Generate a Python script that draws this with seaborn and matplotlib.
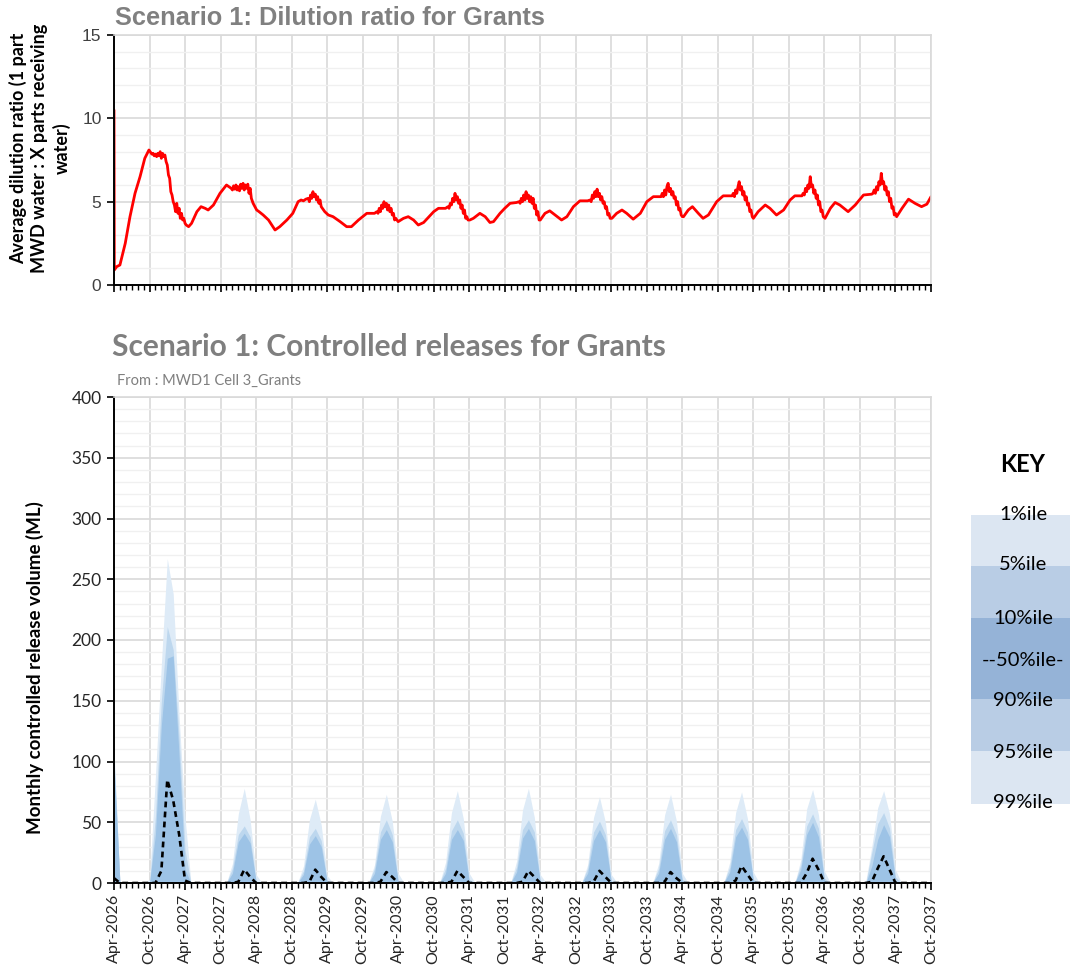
import numpy as np
import pandas as pd
import matplotlib
matplotlib.use("Agg")
import matplotlib.pyplot as plt
from matplotlib.ticker import MultipleLocator
import seaborn as sns

# ---------------------------------------------------------------
# Dilution ratio: time in months after 1 Apr 2026, average ratio
# ---------------------------------------------------------------
dilution_months = [
    0.0, 0.05, 0.45, 1.0, 1.9, 2.7, 3.55, 4.4, 5.2, 5.9,
    6.2, 6.4, 6.6, 6.8, 7.0, 7.2, 7.4, 7.6, 7.8, 8.0, 8.2, 8.4, 8.6, 8.8,
    9.0, 9.2, 9.4, 9.6, 9.8, 10.0, 10.2, 10.4, 10.6, 10.8, 11.0, 11.2, 11.4, 11.6, 11.8, 12.0, 12.2,
    12.6, 13.1, 14.0, 14.7, 15.4, 15.9, 16.8, 17.9, 19.0,
    19.4, 19.8, 20.0, 20.2, 20.4, 20.6, 20.8, 21.0, 21.2, 21.4, 21.6, 21.8, 22.0, 22.2, 22.4, 22.6, 22.8, 23.0, 23.2,
    23.5, 23.8, 24.1, 24.5, 25.2, 26.1, 27.2, 28.0, 29.2, 30.2, 31.1,
    31.6, 32.0, 32.4, 32.8, 33.0, 33.2, 33.4, 33.6, 33.8, 34.0, 34.2, 34.4, 34.6, 34.8, 35.0, 35.2,
    35.6, 36.2, 37.0, 38.2, 39.3, 40.1, 41.3, 42.7, 44.0,
    44.4, 44.6, 44.8, 45.0, 45.2, 45.4, 45.6, 45.8, 46.0, 46.2, 46.4, 46.6, 46.8, 47.0, 47.2, 47.4, 47.6,
    48.0, 48.9, 49.7, 50.6, 51.4, 52.3, 54.0, 54.8, 56.0,
    56.4, 56.6, 56.8, 57.0, 57.2, 57.4, 57.6, 57.8, 58.0, 58.2, 58.4, 58.6, 58.8, 59.0, 59.2, 59.4, 59.6, 59.8,
    60.1, 60.7, 61.8, 62.7, 63.5, 64.1, 65.2, 66.0, 66.9, 68.0,
    68.4, 68.6, 68.8, 69.0, 69.2, 69.4, 69.6, 69.8, 70.0, 70.2, 70.4, 70.6, 70.8, 71.0, 71.2, 71.4, 71.6, 71.8,
    72.0, 72.8, 73.6, 74.5, 75.6, 76.5, 77.6, 78.7, 80.0,
    80.4, 80.6, 80.8, 81.0, 81.2, 81.4, 81.6, 81.8, 82.0, 82.2, 82.4, 82.6, 82.8, 83.0, 83.2, 83.4, 83.6, 83.8,
    84.1, 84.9, 85.8, 86.6, 87.7, 88.9, 90.0, 91.1, 92.2,
    92.4, 92.6, 92.8, 93.0, 93.2, 93.4, 93.6, 93.8, 94.0, 94.2, 94.4, 94.6, 94.8, 95.0, 95.2, 95.4, 95.6, 95.8, 96.0,
    96.2, 97.0, 97.7, 98.7, 99.5, 100.4, 101.8, 102.9, 104.4,
    104.6, 104.8, 105.0, 105.2, 105.4, 105.6, 105.8, 106.0, 106.2, 106.4, 106.6, 106.8, 107.0, 107.2, 107.4, 107.6, 107.8,
    108.0, 108.8, 110.0, 110.8, 111.9, 113.1, 114.2, 115.0, 116.2,
    116.4, 116.6, 116.8, 117.0, 117.2, 117.4, 117.6, 117.8, 118.0, 118.2, 118.4, 118.6, 118.8, 119.0, 119.2, 119.4, 119.6, 119.8,
    120.1, 121.0, 121.8, 122.6, 124.0, 125.2, 126.6, 128.0,
    128.2, 128.4, 128.6, 128.8, 129.0, 129.2, 129.4, 129.6, 129.8, 130.0, 130.2, 130.4, 130.6, 130.8, 131.0, 131.2, 131.4, 131.6, 131.8, 132.0,
    132.2, 133.1, 134.2, 135.3, 136.4, 137.3, 138.0,
]
dilution_ratio = [
    10.5, 0.9, 1.1, 1.2, 2.5, 4.1, 5.5, 6.5, 7.6, 8.1,
    7.95, 7.85, 7.9, 7.75, 7.85, 7.7, 7.9, 7.75, 8.0, 7.6, 7.9, 7.7, 7.8, 7.4,
    7.2, 6.6, 6.4, 5.6, 5.4, 5.0, 4.8, 4.4, 4.9, 4.3, 4.6, 4.0, 4.3, 3.9, 4.0, 3.7, 3.6,
    3.5, 3.7, 4.4, 4.7, 4.6, 4.5, 4.8, 5.5, 6.0,
    5.9, 5.8, 5.7, 5.95, 5.75, 6.0, 5.7, 5.9, 5.65, 6.05, 5.8, 6.1, 5.7, 6.0, 5.8, 6.05, 5.5, 5.8, 5.2,
    4.9, 4.7, 4.5, 4.4, 4.2, 3.9, 3.3, 3.5, 3.9, 4.3, 5.0,
    5.1, 5.05, 5.15, 5.2, 5.0, 5.4, 5.2, 5.6, 5.3, 5.45, 5.1, 5.3, 4.9, 5.1, 4.7, 4.6,
    4.4, 4.2, 4.1, 3.8, 3.5, 3.5, 3.9, 4.3, 4.3,
    4.4, 4.3, 4.6, 4.4, 4.8, 4.6, 5.0, 4.7, 4.9, 4.5, 4.8, 4.4, 4.6, 4.2, 4.3, 3.9, 4.0,
    3.8, 4.0, 4.1, 3.9, 3.6, 3.75, 4.4, 4.6, 4.6,
    4.7, 4.6, 4.9, 4.8, 5.2, 5.0, 5.5, 5.1, 5.3, 4.9, 5.1, 4.6, 4.8, 4.3, 4.5, 4.0, 4.1, 3.9,
    3.9, 4.0, 4.3, 4.1, 3.75, 3.8, 4.3, 4.6, 4.9, 4.95,
    5.0, 4.9, 5.2, 5.0, 5.4, 5.1, 5.6, 5.2, 5.4, 5.0, 5.3, 4.9, 5.2, 4.6, 4.8, 4.2, 4.4, 3.9,
    3.9, 4.3, 4.45, 4.2, 3.9, 4.1, 4.7, 5.05, 5.05,
    5.1, 5.0, 5.4, 5.2, 5.6, 5.3, 5.75, 5.3, 5.5, 5.1, 5.3, 4.9, 5.0, 4.6, 4.7, 4.2, 4.3, 4.0,
    4.0, 4.3, 4.5, 4.3, 3.95, 4.3, 5.0, 5.3, 5.3,
    5.3, 5.5, 5.3, 5.7, 5.4, 5.9, 6.1, 5.6, 5.8, 5.4, 5.6, 5.2, 5.3, 4.8, 5.0, 4.5, 4.6, 4.2, 4.1,
    4.1, 4.5, 4.7, 4.3, 4.0, 4.2, 5.0, 5.35, 5.35,
    5.5, 5.3, 5.7, 5.5, 5.9, 6.2, 5.7, 5.9, 5.4, 5.6, 5.1, 5.3, 4.8, 4.9, 4.4, 4.5, 4.1,
    4.0, 4.4, 4.8, 4.6, 4.2, 4.5, 5.1, 5.35, 5.35,
    5.5, 5.4, 5.8, 5.6, 6.0, 5.8, 6.5, 5.9, 6.0, 5.5, 5.7, 5.2, 5.4, 4.8, 5.0, 4.4, 4.5, 4.1,
    4.0, 4.6, 4.95, 4.8, 4.4, 4.8, 5.4, 5.45,
    5.5, 5.7, 5.5, 5.9, 5.7, 6.2, 6.0, 6.7, 6.1, 6.2, 5.7, 5.9, 5.4, 5.6, 5.0, 5.2, 4.6, 4.7, 4.2, 4.3,
    4.1, 4.6, 5.15, 4.9, 4.7, 4.85, 5.3,
]

# ---------------------------------------------------------------
# Monthly controlled release volume (ML), Apr-2026 .. Oct-2037
# each row: Apr May Jun Jul Aug Sep Oct Nov Dec Jan Feb Mar
# ---------------------------------------------------------------
release_p01 = [
    110, 0, 0, 0, 0, 0, 3, 88, 180, 267, 238, 137,
    54, 0, 0, 0, 0, 0, 0, 0, 16, 57, 78, 52,
    7, 0, 0, 0, 0, 0, 0, 0, 14, 52, 69, 48,
    6, 0, 0, 0, 0, 0, 0, 0, 15, 55, 73, 51,
    8, 0, 0, 0, 0, 0, 0, 0, 17, 58, 76, 53,
    8, 0, 0, 0, 0, 0, 0, 0, 18, 60, 78, 54,
    7, 0, 0, 0, 0, 0, 0, 0, 15, 54, 71, 50,
    7, 0, 0, 0, 0, 0, 0, 0, 16, 56, 73, 51,
    8, 0, 0, 0, 0, 0, 0, 0, 17, 58, 75, 53,
    9, 0, 0, 0, 0, 0, 0, 0, 19, 61, 77, 56,
    10, 0, 0, 0, 0, 0, 0, 2, 30, 62, 76, 57,
    11, 0, 0, 0, 0, 0, 0,
]
release_p05 = [
    104, 0, 0, 0, 0, 0, 0, 55, 150, 211, 192, 120,
    27, 0, 0, 0, 0, 0, 0, 0, 12, 40, 47, 38,
    2, 0, 0, 0, 0, 0, 0, 0, 10, 38, 45, 35,
    2, 0, 0, 0, 0, 0, 0, 0, 12, 42, 52, 40,
    2, 0, 0, 0, 0, 0, 0, 0, 12, 43, 52, 41,
    3, 0, 0, 0, 0, 0, 0, 0, 13, 44, 52, 42,
    2, 0, 0, 0, 0, 0, 0, 0, 12, 42, 51, 40,
    2, 0, 0, 0, 0, 0, 0, 0, 12, 43, 52, 40,
    3, 0, 0, 0, 0, 0, 0, 0, 13, 44, 53, 42,
    3, 0, 0, 0, 0, 0, 0, 0, 15, 47, 57, 45,
    4, 0, 0, 0, 0, 0, 0, 0, 25, 49, 58, 45,
    5, 0, 0, 0, 0, 0, 0,
]
release_p10 = [
    98, 0, 0, 0, 0, 0, 0, 40, 130, 185, 187, 104,
    11, 0, 0, 0, 0, 0, 0, 0, 8, 34, 41, 33,
    1, 0, 0, 0, 0, 0, 0, 0, 7, 32, 39, 30,
    1, 0, 0, 0, 0, 0, 0, 0, 8, 36, 44, 34,
    1, 0, 0, 0, 0, 0, 0, 0, 8, 36, 44, 35,
    1, 0, 0, 0, 0, 0, 0, 0, 9, 37, 45, 35,
    1, 0, 0, 0, 0, 0, 0, 0, 8, 35, 44, 34,
    1, 0, 0, 0, 0, 0, 0, 0, 8, 36, 45, 34,
    1, 0, 0, 0, 0, 0, 0, 0, 9, 38, 46, 36,
    2, 0, 0, 0, 0, 0, 0, 0, 11, 40, 50, 38,
    2, 0, 0, 0, 0, 0, 0, 0, 14, 36, 48, 38,
    2, 0, 0, 0, 0, 0, 0,
]
release_p50 = [
    4, 0, 0, 0, 0, 0, 0, 0, 10, 85, 68, 40,
    2, 0, 0, 0, 0, 0, 0, 0, 0, 1, 11, 5,
    0, 0, 0, 0, 0, 0, 0, 0, 0, 1, 11, 5,
    0, 0, 0, 0, 0, 0, 0, 0, 0, 1, 9, 5,
    0, 0, 0, 0, 0, 0, 0, 0, 0, 1, 10, 5,
    0, 0, 0, 0, 0, 0, 0, 0, 0, 1, 10, 5,
    0, 0, 0, 0, 0, 0, 0, 0, 0, 1, 10, 5,
    0, 0, 0, 0, 0, 0, 0, 0, 0, 1, 9, 4,
    0, 0, 0, 0, 0, 0, 0, 0, 0, 2, 14, 7,
    0, 0, 0, 0, 0, 0, 0, 0, 0, 8, 20, 11,
    0, 0, 0, 0, 0, 0, 0, 0, 1, 12, 22, 11,
    0, 0, 0, 0, 0, 0, 0,
]
# the lower percentiles stay at zero throughout the period
release_p90 = [0] * len(release_p50)
release_p95 = [0] * len(release_p50)
release_p99 = [0] * len(release_p50)

period_labels = [
    "Apr-2026", "Oct-2026", "Apr-2027", "Oct-2027", "Apr-2028", "Oct-2028",
    "Apr-2029", "Oct-2029", "Apr-2030", "Oct-2030", "Apr-2031", "Oct-2031",
    "Apr-2032", "Oct-2032", "Apr-2033", "Oct-2033", "Apr-2034", "Oct-2034",
    "Apr-2035", "Oct-2035", "Apr-2036", "Oct-2036", "Apr-2037", "Oct-2037",
]
key_labels = ["1%ile", "5%ile", "10%ile", "--50%ile-", "90%ile", "95%ile", "99%ile"]

# ---------------------------------------------------------------
sns.set_theme(style="white")
plt.rcParams["font.family"] = ["Lato", "DejaVu Sans"]

W, H = 1070, 967
fig = plt.figure(figsize=(W / 100, H / 100), dpi=100)
fig.patch.set_facecolor("white")


def fx(px):
    return px / W


def fy(py):
    return 1 - py / H


GRID_MAJOR = "#d9d9d9"
GRID_MINOR = "#f0f0f0"
LIGHT, MID, DARK = "#deebf7", "#bdd7ee", "#9dc3e6"
KEY_LIGHT, KEY_MID, KEY_DARK = "#dce6f2", "#b9cde5", "#95b3d7"

n_months = len(release_p50)
month_idx = np.arange(n_months)
tick_pos = month_idx[::6]


def style_axes(ax, ymax, ymajor, yminor, tick_font, tick_color, tick_size):
    ax.set_xlim(0, n_months - 1)
    ax.set_ylim(0, ymax)
    ax.set_facecolor("white")
    ax.xaxis.set_major_locator(MultipleLocator(6))
    ax.xaxis.set_minor_locator(MultipleLocator(1))
    ax.yaxis.set_major_locator(MultipleLocator(ymajor))
    ax.yaxis.set_minor_locator(MultipleLocator(yminor))
    ax.set_axisbelow(True)
    ax.grid(axis="y", which="minor", color=GRID_MINOR, lw=1.0)
    ax.grid(axis="y", which="major", color=GRID_MAJOR, lw=1.2)
    ax.grid(axis="x", which="major", color=GRID_MAJOR, lw=1.2)
    for side in ("left", "bottom"):
        ax.spines[side].set_color("black")
        ax.spines[side].set_linewidth(1.4)
    for side in ("top", "right"):
        ax.spines[side].set_color(GRID_MAJOR)
        ax.spines[side].set_linewidth(1.2)
    ax.tick_params(axis="x", which="major", direction="out", length=5, width=1.2,
                   color="black", bottom=True)
    ax.tick_params(axis="x", which="minor", direction="out", length=3.5, width=1.0,
                   color="black", bottom=True)
    ax.tick_params(axis="y", which="major", direction="out", length=5, width=1.2,
                   color="black", left=True, labelsize=tick_size, labelcolor=tick_color,
                   pad=4)
    ax.tick_params(axis="y", which="minor", length=0)
    for lab in ax.get_yticklabels():
        lab.set_family(tick_font)
    ax.set_xlabel("")
    ax.set_ylabel("")


# ---------------- top panel: dilution ratio ----------------
ax1 = fig.add_axes([fx(114), fy(285), fx(931) - fx(114), fy(35) - fy(285)])
dil = pd.DataFrame({"month": dilution_months, "ratio": dilution_ratio})
sns.lineplot(data=dil, x="month", y="ratio", ax=ax1, color="#ff0000", lw=2.0,
             sort=False, estimator=None)
style_axes(ax1, 15, 5, 1, ["Liberation Sans"], "#404040", 12.5)
ax1.set_xticks(tick_pos)
ax1.set_xticklabels([])

fig.text(fx(115), fy(18), "Scenario 1: Dilution ratio for Grants",
         family=["Liberation Sans"], weight="bold", size=18.3, color="#808080",
         ha="left", va="center")
fig.text(fx(40), fy(148),
         "Average dilution ratio (1 part\nMWD water : X parts receiving\nwater)",
         rotation=90, ha="center", va="center", weight="bold", size=13,
         color="black", linespacing=1.3)

# ---------------- bottom panel: controlled releases ----------------
ax2 = fig.add_axes([fx(114), fy(883), fx(931) - fx(114), fy(397) - fy(883)])
ax2.fill_between(month_idx, release_p99, release_p01, color=LIGHT, lw=0)
ax2.fill_between(month_idx, release_p95, release_p05, color=MID, lw=0)
ax2.fill_between(month_idx, release_p90, release_p10, color=DARK, lw=0)
rel = pd.DataFrame({"month": month_idx, "median": release_p50})
sns.lineplot(data=rel, x="month", y="median", ax=ax2, color="black", lw=1.9,
             estimator=None)
ax2.lines[-1].set_dashes([2.2, 1.6])
style_axes(ax2, 400, 50, 10, ["Lato"], "#262626", 12.5)
ax2.set_xticks(tick_pos)
ax2.set_xticklabels(period_labels, rotation=90, size=11.5, color="#262626")
ax2.tick_params(axis="x", which="major", pad=3)

fig.text(fx(112), fy(347), "Scenario 1: Controlled releases for Grants",
         weight="bold", size=21.5, color="#7f7f7f", ha="left", va="center")
fig.text(fx(117), fy(381), "From : MWD1 Cell 3_Grants", size=10.5,
         color="#7f7f7f", ha="left", va="center")
fig.text(fx(35), fy(668), "Monthly controlled release volume (ML)",
         rotation=90, ha="center", va="center", weight="bold", size=13.5,
         color="black")

# ---------------- key ----------------
kax = fig.add_axes([fx(971), fy(804), fx(1070) - fx(971), fy(515) - fy(804)])
kax.set_xlim(0, 1)
kax.set_ylim(804, 515)
kax.axis("off")
band_edges = [515, 566, 618, 699, 751, 804]
band_colors = [KEY_LIGHT, KEY_MID, KEY_DARK, KEY_MID, KEY_LIGHT]
for top, bot, col in zip(band_edges[:-1], band_edges[1:], band_colors):
    kax.axhspan(top, bot, color=col, lw=0)
label_y = [515, 565, 618, 660, 701, 752, 803]
for lab, yy in zip(key_labels, label_y):
    fig.text(fx(1023), fy(yy), lab, ha="center", va="center", size=14.5,
             color="black")
fig.text(fx(1023), fy(465), "KEY", ha="center", va="center", size=17,
         weight="bold", color="black")

fig.savefig("out.png", dpi=100, facecolor="white")
